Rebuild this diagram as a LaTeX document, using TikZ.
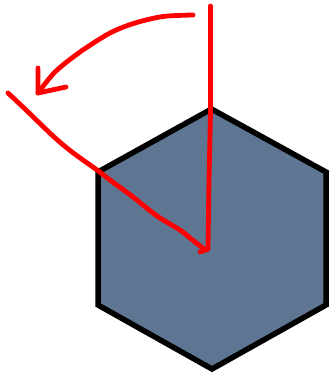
\documentclass[tikz,border=0pt]{standalone}
\begin{document}
\begin{tikzpicture}[x=1pt,y=-1pt,
  hexstyle/.style={draw=black,line width=5.5pt,fill=hexfill,line join=miter},
  pen/.style={draw=red,line width=4.8pt,line cap=round,line join=round}]
\definecolor{hexfill}{RGB}{94,118,146}
\useasboundingbox (0,0) rectangle (329,375);
% hexagon corners
\coordinate (t) at (211.5,109);
\coordinate (ur) at (326,172);
\coordinate (lr) at (326,305);
\coordinate (b) at (212,369);
\coordinate (ll) at (98,305);
\coordinate (ul) at (98,172);
\draw[hexstyle] (t) -- (ur) -- (lr) -- (b) -- (ll) -- (ul) -- cycle;
% vertical stroke
\coordinate (vtop) at (210.5,6);
\coordinate (vend) at (208,249);
\draw[pen] plot[smooth] coordinates {(vtop) (210.5,60) (210.5,110) (209,180) (vend)};
% diagonal stroke
\coordinate (dstart) at (8,93);
\coordinate (dend) at (204,249);
\draw[pen] plot[smooth,tension=0.5] coordinates {(dstart) (25,109) (53,136) (72,152) (97,170) (110,180) (133,197) (157,216) (180,230) (190,238) (dend)};
\draw[pen] (200,252) -- (208,249);
% curved arrow
\coordinate (cstart) at (193,15);
\coordinate (ctip) at (38,93);
\draw[pen] plot[smooth] coordinates {(cstart) (163,16.5) (135,23) (110,33) (80,52) (55,72) (ctip)};
\draw[pen] (38,68) -- (ctip) -- (66,87);
\end{tikzpicture}
\end{document}
